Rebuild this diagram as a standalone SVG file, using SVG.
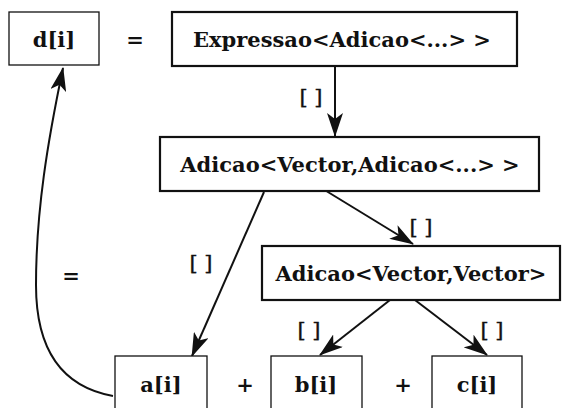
<svg xmlns="http://www.w3.org/2000/svg" width="582" height="408" viewBox="0 0 582 408">
<style>
.box{fill:#fff;stroke:#111;stroke-width:1.3}
.tbox{fill:#fff;stroke:#111;stroke-width:2.2}
.t{font-family:"DejaVu Serif","Liberation Serif",serif;font-size:21px;font-weight:bold;fill:#111;text-anchor:middle}
.lbl{font-family:"DejaVu Serif","Liberation Serif",serif;font-size:21px;fill:#111;text-anchor:middle;stroke:#111;stroke-width:0.4}
.c{fill:none;stroke:#111;stroke-width:2}
</style>
<defs>
<marker id="ah" viewBox="0 0 24 16" refX="23" refY="8" markerWidth="24" markerHeight="16" markerUnits="userSpaceOnUse" orient="auto">
<path d="M0,0 L24,8 L0,16 L6,8 Z" fill="#111"/>
</marker>
</defs>
<rect width="582" height="408" fill="#fff"/>
<g id="connectors">
<path class="c" d="M335,66 L335,136" marker-end="url(#ah)"/>
<path class="c" d="M264,192 L192,356" marker-end="url(#ah)"/>
<path class="c" d="M323,189 L413,244" marker-end="url(#ah)"/>
<path class="c" d="M390,300 L320,355" marker-end="url(#ah)"/>
<path class="c" d="M415,300 L487,355" marker-end="url(#ah)"/>
<path class="c" d="M113,396 C58,386 36,345 36,285 C36,210 48,140 63,68" marker-end="url(#ah)"/>
<text class="lbl" x="311" y="104">[ ]</text>
<text class="lbl" x="201" y="270">[ ]</text>
<text class="lbl" x="421" y="234">[ ]</text>
<text class="lbl" x="309" y="337">[ ]</text>
<text class="lbl" x="492" y="337">[ ]</text>
<text class="t" x="71" y="283">=</text>
</g>
<g id="d"><rect class="box" x="9" y="12" width="90" height="53"/><text class="t" x="54" y="47">d[i]</text></g>
<text class="t" x="135" y="47">=</text>
<g id="expressao"><rect class="tbox" x="172" y="12" width="345" height="54"/><text class="t" x="342" y="47">Expressao&lt;Adicao&lt;...&gt; &gt;</text></g>
<g id="adicao1"><rect class="tbox" x="160" y="137" width="379" height="54"/><text class="t" x="350" y="172">Adicao&lt;Vector,Adicao&lt;...&gt; &gt;</text></g>
<g id="adicao2"><rect class="tbox" x="262" y="246" width="298" height="54"/><text class="t" x="411" y="281">Adicao&lt;Vector,Vector&gt;</text></g>
<g id="a"><rect class="box" x="115" y="356" width="92" height="54"/><text class="t" x="161" y="392">a[i]</text></g>
<text class="t" x="245" y="392">+</text>
<g id="b"><rect class="box" x="271" y="356" width="91" height="54"/><text class="t" x="316" y="392">b[i]</text></g>
<text class="t" x="403" y="392">+</text>
<g id="c"><rect class="box" x="432" y="356" width="90" height="54"/><text class="t" x="477" y="392">c[i]</text></g>
</svg>
